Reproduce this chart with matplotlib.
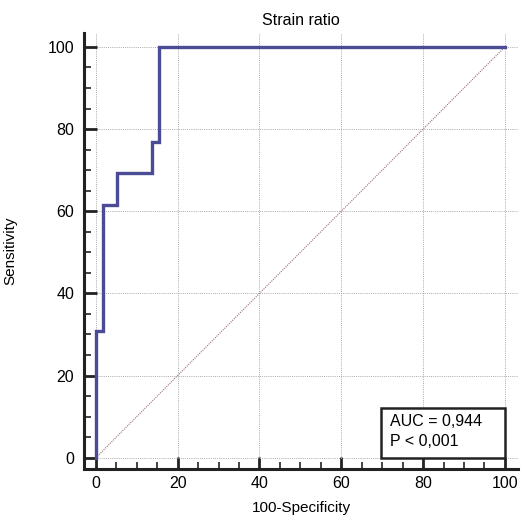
import numpy as np
import matplotlib
matplotlib.use("Agg")
import matplotlib.pyplot as plt
from matplotlib.patches import Rectangle
from matplotlib.ticker import MultipleLocator

plt.rcParams['font.family'] = ['Liberation Sans', 'DejaVu Sans']

# ROC step points (100-specificity, sensitivity)
fpr = [0, 0, 1.72, 1.72, 5.17, 5.17, 13.79, 13.79, 15.52, 15.52, 100]
tpr = [0, 30.77, 30.77, 61.54, 61.54, 69.23, 69.23, 76.92, 76.92, 100, 100]
ref_line = [0, 100]
auc_lines = ["AUC = 0,944", "P < 0,001"]

fig = plt.figure(figsize=(5.21, 5.15), dpi=100)
ax = fig.add_axes([0.1612, 0.0893, 0.8330, 0.8467])

ax.grid(True, color='#aaaaaa', linestyle=(0, (1, 1.2)), linewidth=0.7)
ax.plot(ref_line, ref_line, color='#a07070', linestyle=(0, (1, 1)), linewidth=0.8)
ax.plot(fpr, tpr, color='#4b4b96', linewidth=2.4, solid_joinstyle='miter')

ax.set_xlim(-2.9, 103.2)
ax.set_ylim(-2.75, 103.4)
ax.xaxis.set_major_locator(MultipleLocator(20))
ax.yaxis.set_major_locator(MultipleLocator(20))
ax.xaxis.set_minor_locator(MultipleLocator(5))
ax.yaxis.set_minor_locator(MultipleLocator(5))
ax.tick_params(which='major', direction='in', length=9, width=2, labelsize=11.5,
               color='#222222')
ax.tick_params(axis='x', which='major', pad=5)
ax.tick_params(axis='y', which='major', pad=7)
ax.tick_params(which='minor', direction='in', length=5, width=1.2, color='#222222')

for s in ['top', 'right']:
    ax.spines[s].set_visible(False)
for s in ['left', 'bottom']:
    ax.spines[s].set_linewidth(2.2)
    ax.spines[s].set_color('#222222')

ax.set_title('Strain ratio', fontsize=11.5, pad=6)
ax.set_xlabel('100-Specificity', fontsize=11, labelpad=7)
ax.set_ylabel('Sensitivity', fontsize=11, labelpad=22)

# annotation box
ax.add_patch(Rectangle((69.7, 0), 30.3, 12.2, facecolor='white', edgecolor='#222222',
                       linewidth=1.8, zorder=5))
ax.text(72, 8.9, auc_lines[0], fontsize=11.5, va='center', ha='left', zorder=6)
ax.text(72, 4.0, auc_lines[1], fontsize=11.5, va='center', ha='left', zorder=6)

fig.savefig('out.png', dpi=100)
